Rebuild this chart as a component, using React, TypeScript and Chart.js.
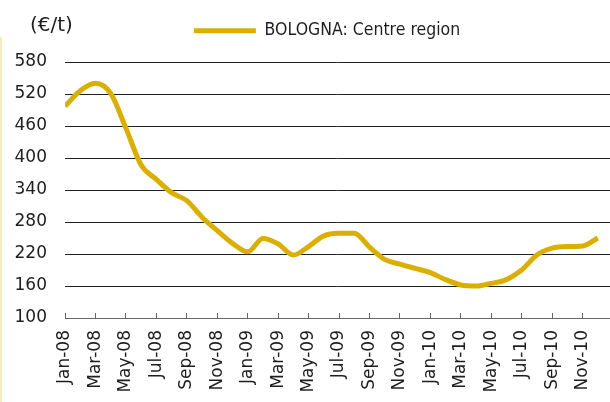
import React, { useEffect, useRef } from "react";
import { Chart, registerables } from "chart.js";

Chart.register(...registerables);

const MONTHS = [
  "Jan-08", "Feb-08", "Mar-08", "Apr-08", "May-08", "Jun-08", "Jul-08", "Aug-08", "Sep-08", "Oct-08", "Nov-08", "Dec-08",
  "Jan-09", "Feb-09", "Mar-09", "Apr-09", "May-09", "Jun-09", "Jul-09", "Aug-09", "Sep-09", "Oct-09", "Nov-09", "Dec-09",
  "Jan-10", "Feb-10", "Mar-10", "Apr-10", "May-10", "Jun-10", "Jul-10", "Aug-10", "Sep-10", "Oct-10", "Nov-10", "Dec-10",
];

const PRICES = [
  497, 526, 540, 521, 456, 387, 360, 335, 320, 289, 264, 240,
  224, 249, 239, 218, 234, 254, 259, 259, 233, 210, 201, 193,
  185, 172, 162, 160, 165, 172, 190, 218, 231, 234, 235, 250,
];

const SERIES_LABEL = "BOLOGNA: Centre region";
const UNIT_LABEL = "(€/t)";
const Y_MIN = 100;
const Y_MAX = 580;
const Y_STEP = 60;

const LINE_COLOR = "#DAAF00";
const TEXT_COLOR = "#1e1e1e";

export default function App() {
  const canvasRef = useRef<HTMLCanvasElement | null>(null);

  useEffect(() => {
    const canvas = canvasRef.current;
    if (!canvas) return;

    const unitPlugin = {
      id: "unitLabel",
      afterLayout(chart: any) {
        // move the legend so it sits right of centre, as in the original
        const lg = chart.legend;
        if (lg) {
          lg.left += 22;
          lg.right += 22;
        }
      },
      afterDraw(chart: any) {
        const ctx = chart.ctx;
        ctx.save();
        ctx.font = '20px "DejaVu Sans"';
        ctx.fillStyle = TEXT_COLOR;
        ctx.textAlign = "left";
        ctx.textBaseline = "middle";
        ctx.fillText(UNIT_LABEL, 30, 26);
        ctx.restore();
      },
    };

    const chart = new Chart(canvas, {
      type: "line",
      data: {
        datasets: [
          {
            label: SERIES_LABEL,
            data: PRICES.map((v, i) => ({ x: i, y: v })),
            borderColor: LINE_COLOR,
            backgroundColor: LINE_COLOR,
            borderWidth: 5,
            pointRadius: 0,
            cubicInterpolationMode: "monotone",
            fill: false,
          },
        ],
      },
      options: {
        animation: false,
        responsive: false,
        events: [],
        layout: { padding: { top: 12, left: 0, right: 0, bottom: 0 } },
        plugins: {
          tooltip: { enabled: false },
          legend: {
            display: true,
            position: "top",
            labels: {
              usePointStyle: true,
              pointStyle: "line",
              pointStyleWidth: 62,
              padding: 10,
              color: TEXT_COLOR,
              font: { family: '"DejaVu Sans Condensed", "DejaVu Sans"', size: 17.5 },
            },
          },
        },
        scales: {
          x: {
            type: "linear",
            min: 0,
            max: 35.8,
            border: { display: true, color: "#666", width: 1 },
            grid: { drawOnChartArea: false, drawTicks: true, tickLength: -5, color: "#666" },
            ticks: {
              stepSize: 2,
              includeBounds: false,
              autoSkip: false,
              minRotation: 90,
              maxRotation: 90,
              padding: 17,
              color: TEXT_COLOR,
              font: { family: '"DejaVu Sans"', size: 17 },
              callback: (v: any) => MONTHS[v as number] ?? "",
            },
            afterFit: (s: any) => {
              s.height = 84;
              s.paddingLeft = 0;
              s.paddingRight = 0;
            },
          },
          xTop: {
            type: "linear",
            position: "top",
            display: true,
            border: { display: false },
            grid: { display: false, drawTicks: false },
            ticks: { display: false },
            afterFit: (s: any) => {
              s.height = 12.5;
              s.paddingLeft = 0;
              s.paddingRight = 0;
            },
          },
          y: {
            type: "linear",
            min: Y_MIN,
            max: Y_MAX,
            border: { display: false },
            grid: {
              drawTicks: false,
              color: (c: any) => (c.tick && c.tick.value === Y_MIN ? "#666" : "#222"),
              lineWidth: 1,
            },
            ticks: {
              stepSize: Y_STEP,
              padding: 18,
              color: TEXT_COLOR,
              font: { family: '"DejaVu Sans"', size: 17 },
            },
            afterFit: (s: any) => {
              s.width = 65;
            },
          },
        },
      },
      plugins: [unitPlugin],
    } as any);

    return () => {
      chart.destroy();
    };
  }, []);

  return (
    <div style={{ position: "fixed", left: 0, top: 0, width: 610, height: 402, background: "#fff" }}>
      <div style={{ position: "absolute", left: 0, top: 37, width: 2, height: 365, background: "#F6ECC2" }} />
      <canvas ref={canvasRef} width={610} height={402} style={{ display: "block", width: 610, height: 402 }} />
    </div>
  );
}
